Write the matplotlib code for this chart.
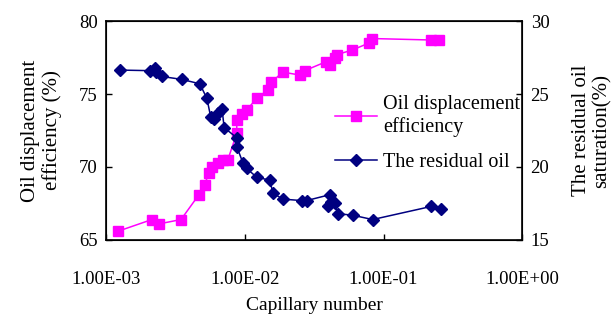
import matplotlib
matplotlib.use("Agg")
import matplotlib.pyplot as plt
from matplotlib.ticker import FuncFormatter, NullLocator

# capillary number vs oil displacement efficiency (%)
cap_eff = [1.22e-3, 2.14e-3, 2.4e-3, 3.47e-3, 4.67e-3, 5.15e-3, 5.5e-3, 5.8e-3,
           6.4e-3, 7.0e-3, 7.55e-3, 8.75e-3, 8.75e-3, 9.5e-3, 1.03e-2, 1.22e-2,
           1.47e-2, 1.55e-2, 1.88e-2, 2.49e-2, 2.7e-2, 3.83e-2, 4.1e-2, 4.47e-2,
           4.6e-2, 5.9e-2, 7.9e-2, 8.3e-2, 2.21e-1, 2.53e-1]
eff = [65.6, 66.4, 66.1, 66.4, 68.1, 68.8, 69.6, 70.0,
       70.3, 70.5, 70.5, 72.3, 73.2, 73.6, 73.9, 74.7,
       75.3, 75.8, 76.5, 76.3, 76.6, 77.2, 77.0, 77.5,
       77.7, 78.0, 78.5, 78.8, 78.7, 78.7]

# capillary number vs residual oil saturation (%)
cap_res = [1.26e-3, 2.07e-3, 2.25e-3, 2.3e-3, 2.53e-3, 3.52e-3, 4.74e-3, 5.33e-3,
           5.69e-3, 6.0e-3, 6.45e-3, 6.85e-3, 7.1e-3, 8.75e-3, 8.75e-3, 9.68e-3,
           1.03e-2, 1.22e-2, 1.51e-2, 1.6e-2, 1.88e-2, 2.57e-2, 2.79e-2, 4.09e-2,
           4.2e-2, 3.95e-2, 4.47e-2, 4.68e-2, 5.98e-2, 8.34e-2, 2.21e-1, 2.61e-1]
res = [26.64, 26.6, 26.8, 26.5, 26.2, 26.0, 25.7, 24.7,
       23.4, 23.3, 23.7, 24.0, 22.7, 22.0, 21.4, 20.3,
       19.9, 19.3, 19.1, 18.2, 17.8, 17.7, 17.7, 18.1,
       17.6, 17.3, 17.5, 16.8, 16.7, 16.4, 17.3, 17.1]

x_ticks = [1e-3, 1e-2, 1e-1, 1e0]
left_ticks = [65, 70, 75, 80]
right_ticks = [15, 20, 25, 30]

PINK = "#ff00ff"
NAVY = "#000080"

plt.rcParams["font.family"] = ["Liberation Serif", "DejaVu Serif"]

fig = plt.figure(figsize=(6.13, 3.22), dpi=100)
ax = fig.add_axes([0.173, 0.2547, 0.679, 0.68])
ax2 = ax.twinx()

l1, = ax.plot(cap_eff, eff, color=PINK, marker="s", markersize=6.5, lw=1.1,
              label="Oil displacement\nefficiency")
l2, = ax2.plot(cap_res, res, color=NAVY, marker="D", markersize=5.8, lw=1.1,
               label="The residual oil")

ax.set_xscale("log")
ax.set_xlim(1e-3, 1e0)
ax.set_xticks(x_ticks)
ax.xaxis.set_minor_locator(NullLocator())
ax.xaxis.set_major_formatter(FuncFormatter(lambda v, _: f"{v:.2E}"))
ax.set_ylim(65, 80)
ax.set_yticks(left_ticks)
ax2.set_ylim(15, 30)
ax2.set_yticks(right_ticks)

for a in (ax, ax2):
    a.tick_params(direction="in", labelsize=13.5, length=4, width=1)
ax.tick_params(axis="x", pad=22)
ax.tick_params(axis="y", pad=6)
ax2.tick_params(axis="y", pad=6)
for s in ax.spines.values():
    s.set_linewidth(1.2)

ax.set_xlabel("Capillary number", fontsize=14, labelpad=7)
ax.set_ylabel("Oil displacement\nefficiency (%)", fontsize=15, labelpad=12,
              linespacing=1.15)
ax2.set_ylabel("The residual oil\nsaturation(%)", fontsize=15, labelpad=16,
               rotation=90, linespacing=1.15)

ax2.legend([l1, l2], [l1.get_label(), l2.get_label()], loc="upper left",
           bbox_to_anchor=(0.53, 0.70), frameon=False, fontsize=14.5,
           handlelength=2.1, handletextpad=0.3, labelspacing=0.8,
           borderaxespad=0)

fig.savefig("out.png", dpi=100)
